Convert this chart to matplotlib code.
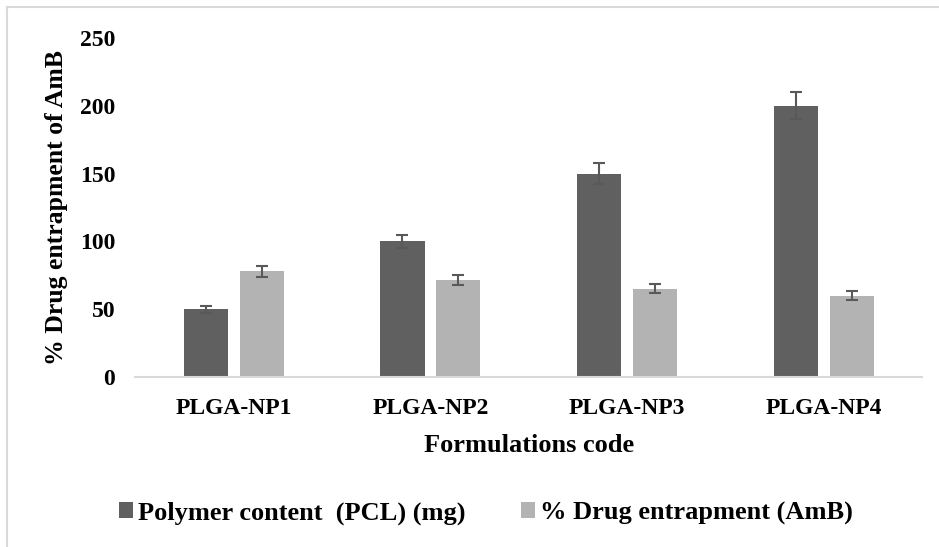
import numpy as np
import matplotlib.pyplot as plt
from matplotlib.lines import Line2D

plt.rcParams['font.family'] = 'Liberation Serif'
plt.rcParams['font.weight'] = 'bold'
plt.rcParams['axes.labelweight'] = 'bold'

formulations = ['PLGA-NP1', 'PLGA-NP2', 'PLGA-NP3', 'PLGA-NP4']
polymer = [50, 100, 150, 200]
polymer_err = [2.5, 5, 7.5, 10]
entrap = [78, 71.5, 65, 60]
entrap_err = [3.9, 3.6, 3.3, 3.2]

x = np.arange(len(formulations))
w = 0.224
off = 0.142

fig = plt.figure(figsize=(9.39, 5.47), dpi=100)
ax = fig.add_axes([0.1442, 0.3108, 0.8378, 0.6197])

errkw = dict(ecolor='#595959', elinewidth=1.5, capsize=4.3, capthick=1.5)
ax.bar(x - off, polymer, w, color='#606060', yerr=polymer_err,
       error_kw=errkw, label='Polymer content  (PCL) (mg)')
ax.bar(x + off, entrap, w, color='#b3b3b3', yerr=entrap_err,
       error_kw=errkw, label='% Drug entrapment (AmB)')

ax.set_xlim(-0.5, 3.5)
ax.set_ylim(0, 250)
ax.set_yticks([0, 50, 100, 150, 200, 250])
ax.set_xticks(x)
ax.set_xticklabels(formulations)
ax.tick_params(axis='both', length=0, labelsize=17)
ax.tick_params(axis='x', pad=14.8)
ax.tick_params(axis='y', pad=14.5)

for s in ['top', 'right', 'left']:
    ax.spines[s].set_visible(False)
ax.spines['bottom'].set_color('#d9d9d9')
ax.spines['bottom'].set_linewidth(1.5)

ax.set_xlabel('Formulations code', fontsize=19, fontweight='bold', labelpad=10.8)
ax.set_ylabel('% Drug entrapment of AmB', fontsize=18.5, fontweight='bold',
              labelpad=8.6)

fig.legend(loc='center', bbox_to_anchor=(486 / 939, 1 - 513 / 547), ncol=2,
           frameon=False, fontsize=19, handlelength=0.53, handleheight=0.53,
           handletextpad=0.2, columnspacing=2.1)

# chart border (clipped on right and bottom)
fig.add_artist(Line2D([7 / 939, 7 / 939], [0, 1 - 7 / 547],
                      transform=fig.transFigure, color='#d9d9d9', lw=1.5))
fig.add_artist(Line2D([7 / 939, 1], [1 - 7 / 547, 1 - 7 / 547],
                      transform=fig.transFigure, color='#d9d9d9', lw=1.5))

plt.savefig('out.png', dpi=100)
